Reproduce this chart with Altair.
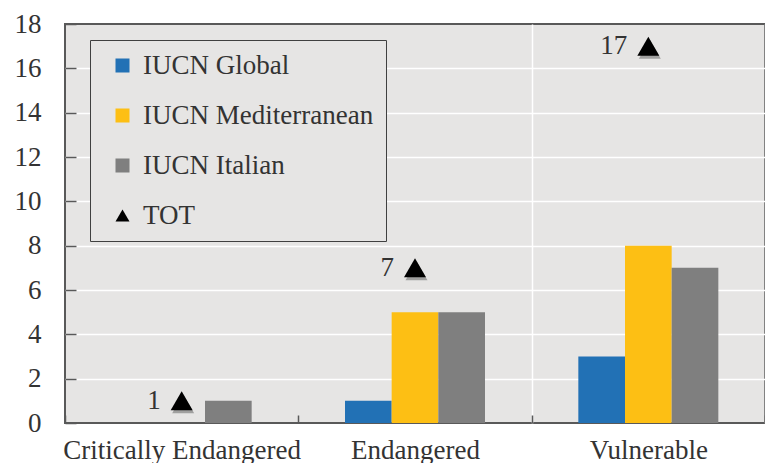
import altair as alt
import pandas as pd

categories = ["Critically Endangered", "Endangered", "Vulnerable"]
series = ["IUCN Global", "IUCN Mediterranean", "IUCN Italian"]
iucn_global = [0, 1, 3]
iucn_mediterranean = [0, 5, 8]
iucn_italian = [1, 5, 7]
tot = [1, 7, 17]
tot_name = "TOT"
colors = ["#2271b5", "#fdbf14", "#7f7f7f", "#000000"]
shapes = ["square", "square", "square", "triangle-up"]
y_ticks = list(range(0, 19, 2))

rows = []
for s, vals in zip(series, [iucn_global, iucn_mediterranean, iucn_italian]):
    for c, v in zip(categories, vals):
        rows.append({"category": c, "series": s, "value": v})
bars_df = pd.DataFrame(rows)
tot_df = pd.DataFrame({
    "category": categories,
    "series": [tot_name] * len(categories),
    "value": tot,
    "label": [str(t) for t in tot],
})

all_series = series + [tot_name]
FONT = "Liberation Serif"
TXT = "#333333"
FS = 27

legend = alt.Legend(
    orient="none", legendX=25, legendY=16, title=None,
    fillColor="#e6e5e4", strokeColor="#404040", padding=12,
    labelFont=FONT, labelFontSize=FS, labelColor=TXT, labelLimit=0,
    symbolSize=196, symbolOffset=7, labelOffset=7, rowPadding=22,
    symbolStrokeWidth=0,
)

color_scale = alt.Scale(domain=all_series, range=colors)
shape_scale = alt.Scale(domain=all_series, range=shapes)

x_enc = alt.X(
    "category:N", sort=categories, title=None,
    scale=alt.Scale(paddingInner=0, paddingOuter=0),
    axis=alt.Axis(
        labelAngle=0, labelFont=FONT, labelFontSize=FS, labelColor=TXT,
        labelLimit=0, labelPadding=14, domain=False, offset=-8, tickSize=8,
        tickColor="#595959", tickWidth=1.5, tickBand="extent",
        grid=True, gridColor="white", gridWidth=1.5,
        gridOpacity={"condition": {"test": "datum.extra || datum.value === 'Critically Endangered'", "value": 0}, "value": 1},
    ),
)
y_enc = alt.Y(
    "value:Q", title=None,
    scale=alt.Scale(domain=[0, 18], nice=False),
    axis=alt.Axis(
        values=y_ticks, labelFont=FONT, labelFontSize=FS, labelColor=TXT,
        labelPadding=24, domain=False, offset=-11, tickSize=11,
        tickColor="#595959", tickWidth=1.5,
        grid=True, gridColor="white", gridWidth=1.5,
        gridOpacity={"condition": {"test": "datum.value === 0 || datum.value === 18", "value": 0}, "value": 1},
    ),
)

bars = alt.Chart(bars_df).mark_bar().encode(
    x=x_enc,
    xOffset=alt.XOffset("series:N", sort=series,
                        scale=alt.Scale(domain=series, paddingOuter=1, paddingInner=0)),
    y=y_enc,
    color=alt.Color("series:N", scale=color_scale, legend=legend),
)

shadow = alt.Chart(tot_df).mark_point(
    filled=True, shape="triangle-up", size=484, color="#000000",
    opacity=0.3, xOffset=1.5, yOffset=3,
).encode(x=x_enc, y=y_enc)

tri = alt.Chart(tot_df).mark_point(filled=True, size=484, opacity=1).encode(
    x=x_enc, y=y_enc,
    color=alt.Color("series:N", scale=color_scale, legend=legend),
    shape=alt.Shape("series:N", scale=shape_scale, legend=legend),
)

labels = alt.Chart(tot_df).mark_text(
    align="right", baseline="middle", dx=-21,
    font=FONT, fontSize=FS, color=TXT,
).encode(x=x_enc, y=y_enc, text="label:N")

chart = alt.layer(bars, shadow, tri, labels).properties(
    width=700, height=399,
    autosize=alt.AutoSizeParams(type="none"),
    padding={"left": 57, "top": 16, "right": 0, "bottom": 40},
).configure_view(fill="#e6e5e4", stroke="#595959", strokeWidth=2)

chart.save("out.html", embed_options={"renderer": "svg", "actions": False})
